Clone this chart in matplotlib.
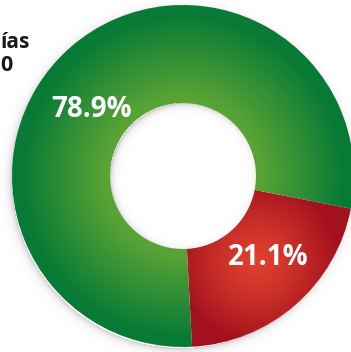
import numpy as np
import matplotlib
matplotlib.use("Agg")
import matplotlib.pyplot as plt

# ---------- data ----------
labels = ["Rojo", "Verde"]
shares = [21.1, 78.9]
title_lines = ["ías", "0"]

# ---------- geometry / style ----------
W, H = 351, 352
cx, cy = 183, 176          # donut centre (y up)
R_OUT, R_IN = 171, 73
START = -11

GREEN_LIGHT = np.array([0.35, 0.64, 0.21])
GREEN_DARK = np.array([0.03, 0.48, 0.21])
RED_LIGHT = np.array([0.88, 0.25, 0.18])
RED_DARK = np.array([0.64, 0.07, 0.12])

fig = plt.figure(figsize=(W / 100, H / 100), dpi=100)
ax = fig.add_axes([0, 0, 1, 1])

xx, yy = np.meshgrid(np.arange(W) + 0.5, np.arange(H) + 0.5)
dist = np.hypot(xx - cx, yy - cy)

# soft shadow around the ring and inside the hole
sh_out = np.hypot(xx - (cx - 2), yy - (cy - 3))
a_out = np.where(sh_out > R_OUT - 2, 0.30 * np.exp(-np.clip(sh_out - R_OUT + 2, 0, None) / 3.5), 0)
sh_in = np.hypot(xx - (cx + 2), yy - (cy - 2))
a_in = np.where(sh_in < R_IN + 2, 0.35 * np.exp(-np.clip(R_IN + 2 - sh_in, 0, None) / 3.0), 0)
alpha = np.clip(a_out + a_in, 0, 1)
shadow = np.zeros((H, W, 4))
shadow[..., :3] = 0.35
shadow[..., 3] = alpha
ax.imshow(shadow, extent=(0, W, 0, H), origin="lower", zorder=0, interpolation="bilinear")

wedges, texts, autotexts = ax.pie(
    shares, radius=R_OUT, center=(cx, cy), startangle=START, counterclock=False,
    wedgeprops=dict(width=R_OUT - R_IN, linewidth=0),
    autopct="%.1f%%", pctdistance=0.67,
    textprops=dict(color="white", fontsize=20, fontweight="bold", family="Open Sans"),
)

# green gradient: light inside, dark at the outer rim
t = np.clip((dist - R_IN) / (R_OUT - R_IN), 0, 1)
k = np.clip((t - 0.05) / 0.85, 0, 1)
green = GREEN_LIGHT[None, None, :] * (1 - k[..., None]) + GREEN_DARK[None, None, :] * k[..., None]

# red gradient: radial from the middle of the slice
mid = np.deg2rad(START - shares[0] / 100 * 180)
rx = cx + 0.66 * R_OUT * np.cos(mid)
ry = cy + 0.66 * R_OUT * np.sin(mid)
kr = np.clip(np.hypot(xx - rx, yy - ry) / 80, 0, 1) ** 1.3
red = RED_LIGHT[None, None, :] * (1 - kr[..., None]) + RED_DARK[None, None, :] * kr[..., None]

for w, img in zip(wedges, [red, green]):
    w.set_facecolor("none")
    im = ax.imshow(img, extent=(0, W, 0, H), origin="lower", zorder=1, interpolation="bilinear")
    im.set_clip_path(w)

# label placement as in the original artwork
label_pos = [(-44, 0.69), (144, 0.66)]
for txt, (ang, frac) in zip(autotexts, label_pos):
    a = np.deg2rad(ang)
    txt.set_position((cx + frac * R_OUT * np.cos(a), cy + frac * R_OUT * np.sin(a)))
    txt.set_zorder(3)

ax.text(1, H - 48, title_lines[0], ha="left", va="baseline", fontsize=15,
        fontweight="bold", family="Open Sans", color="#1a1a1a")
ax.text(0, H - 71, title_lines[1], ha="left", va="baseline", fontsize=15.5,
        fontweight="bold", family="Open Sans", color="#1a1a1a")

ax.set_xlim(0, W)
ax.set_ylim(0, H)
ax.set_aspect("equal")
ax.axis("off")

fig.savefig("out.png", dpi=100, facecolor="white")
plt.close(fig)
